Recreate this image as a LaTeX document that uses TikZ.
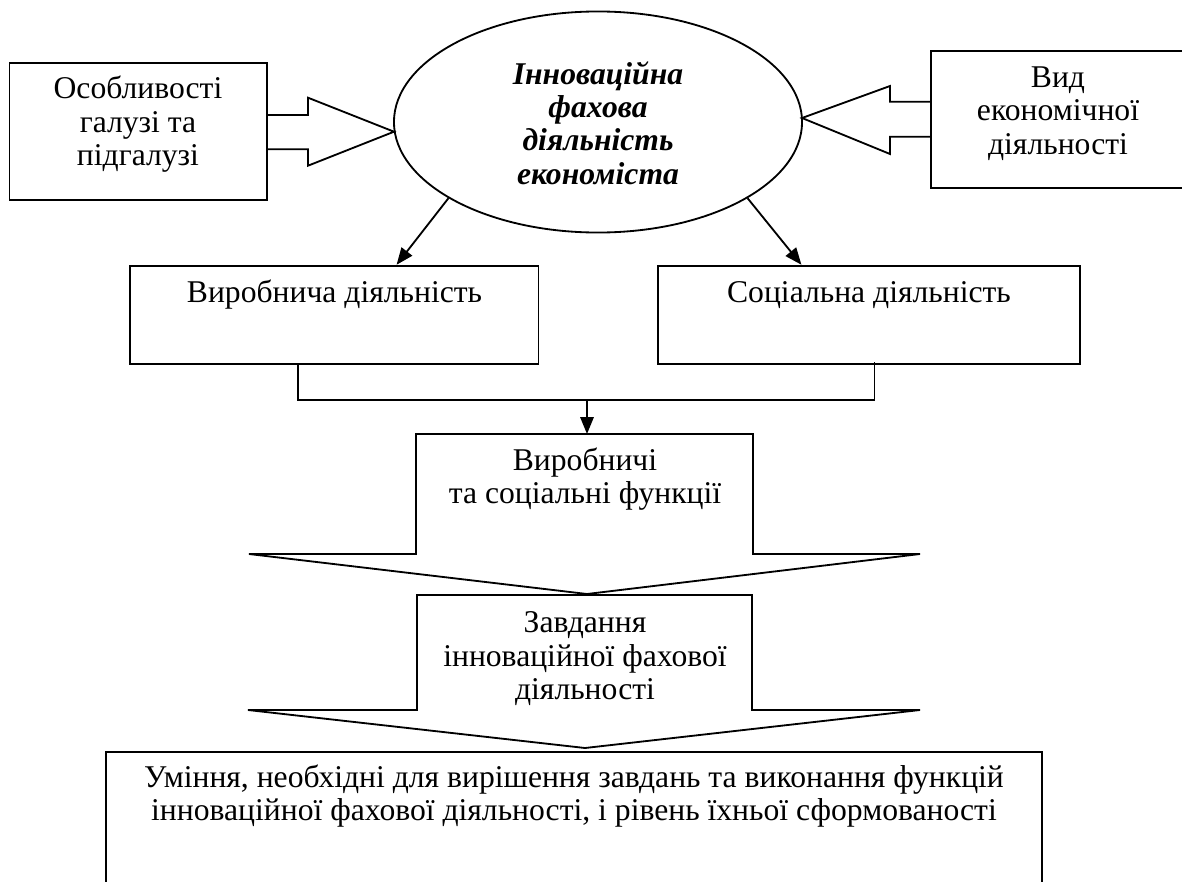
\documentclass[tikz,border=0pt]{standalone}
\usepackage{fontspec}
\setmainfont{Liberation Serif}
\usetikzlibrary{arrows.meta,shapes.geometric,calc}
\tikzset{
box/.style={draw,line width=1.3pt,inner sep=0pt},
txt/.style={inner sep=0pt,align=center,font=\fontsize{22.5}{23.8}\selectfont},
ln/.style={line width=1.3pt,line join=miter},
arr/.style={line width=1.3pt,-{Triangle[length=12pt,width=9.5pt]}}
}

\begin{document}
\begin{tikzpicture}[x=0.025cm,y=-0.025cm]
\useasboundingbox (0,0) rectangle (1182,881);
\fill[white] (0,0) rectangle (1182,881);
\clip (0,0) rectangle (1182,881);
\node[box,ellipse,minimum width=10.2cm,minimum height=5.525cm] (ell) at (598,122) {};
\node[box,minimum width=6.43cm,minimum height=3.42cm] (osob) at (138.2,131.7) {};
\node[box,minimum width=6.39cm,minimum height=3.42cm] (vyd) at (1058.5,119.3) {};
\node[box,minimum width=10.21cm,minimum height=2.465cm] (vyr) at (334.2,315) {};
\node[box,minimum width=10.54cm,minimum height=2.465cm] (soc) at (869.2,315) {};
\node[box,minimum width=23.4cm,minimum height=4.46cm] (umin) at (574,840.9) {};
\node[txt,font=\fontsize{22.5}{23.8}\selectfont\bfseries\itshape] (elltxt) at (598,123) {Інноваційна\\ фахова\\ діяльність\\ економіста};
\node[txt] (osobtxt) at (138,124.5) {Особливості\\ галузі та\\ підгалузі};
\node[txt] (vydtxt) at (1058,113.5) {Вид\\ економічної\\ діяльності};
\node[txt] (vyrtxt) at (334.5,295) {Виробнича діяльність};
\node[txt] (soctxt) at (869,295) {Соціальна діяльність};
\node[txt] (umintxt) at (574,796) {Уміння, необхідні для вирішення завдань та виконання функцій\\ інноваційної фахової діяльності, і рівень їхньої сформованості};

\draw[ln] (osob.east |- 0,115) -- (308,115) -- (308,97.7) -- (394,131.7) -- (308,165.7) -- (308,149.3) -- (osob.east |- 0,149.3);
\draw[ln] (vyd.west |- 0,101.7) -- (890,101.7) -- (890,86) -- (802,118) -- (890,154) -- (890,136.7) -- (vyd.west |- 0,136.7);

\draw[arr] (ell.207) -- ($(vyr.north west)!0.652!(vyr.north east)$);
\draw[arr] (ell.333) -- ($(soc.north west)!0.34!(soc.north east)$);

\coordinate (jn) at (587,400);
\coordinate (funtop) at (587,434);
\draw[ln] ($(vyr.south west)+(169,0)$) |- (jn) -| ($(soc.south west)+(217,-3)$);
\draw[arr] (jn) -- (funtop);

\draw[ln] (416,434) -- (753,434) -- (753,554) -- (920,554) -- (587,594) -- (249,554) -- (416,554) -- cycle;
\node[txt] (funtxt) at (585,479) {Виробничі\\ та соціальні функції};
\draw[ln] (417,595) -- (752,595) -- (752,710) -- (920,710) -- (585,748) -- (248,710) -- (417,710) -- cycle;
\node[txt] (zavtxt) at (585,659) {Завдання\\ інноваційної фахової\\ діяльності};
\end{tikzpicture}
\end{document}
